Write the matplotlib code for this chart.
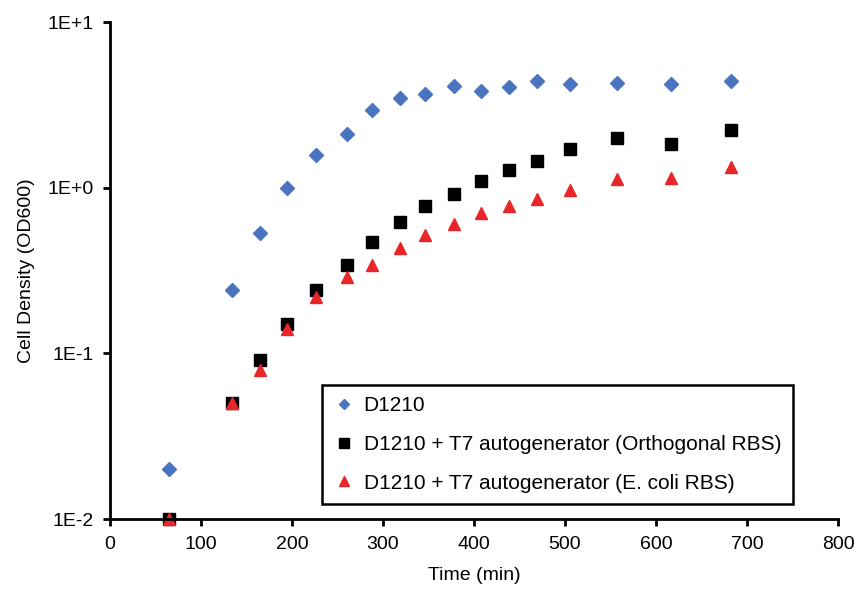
import matplotlib.pyplot as plt
from matplotlib.ticker import FixedLocator, NullLocator

plt.rcParams['font.family'] = ['Liberation Sans', 'DejaVu Sans']

# Time points (min)
tempo = [65, 134, 165, 195, 226, 260, 288, 319, 346, 378, 408, 438, 469, 505, 557, 616, 682]

# Cell density (OD600)
d1210 = [0.02, 0.24, 0.53, 1.0, 1.58, 2.1, 2.95, 3.48, 3.7, 4.1, 3.84, 4.05, 4.4, 4.2, 4.3, 4.2, 4.4]
orto = [0.01, 0.05, 0.091, 0.15, 0.24, 0.34, 0.47, 0.62, 0.78, 0.91, 1.1, 1.27, 1.45, 1.72, 2.0, 1.84, 2.24]
ecoli = [0.01, 0.05, 0.079, 0.14, 0.22, 0.29, 0.34, 0.435, 0.52, 0.6, 0.70, 0.77, 0.85, 0.97, 1.13, 1.15, 1.34]

rotulos = ['D1210',
           'D1210 + T7 autogenerator (Orthogonal RBS)',
           'D1210 + T7 autogenerator (E. coli RBS)']
yticks = [0.01, 0.1, 1, 10]
ylabels = ['1E-2', '1E-1', '1E+0', '1E+1']

fig = plt.figure(figsize=(8.61, 5.95), dpi=100)
ax = fig.add_axes([0.1278, 0.1277, 0.8455, 0.8353])

ax.plot(tempo, d1210, 'D', color='#4a74c0', markersize=7, label=rotulos[0], clip_on=False)
ax.plot(tempo, orto, 's', color='black', markersize=8.5, label=rotulos[1], clip_on=False)
ax.plot(tempo, ecoli, '^', color='#e8262a', markersize=8.5, label=rotulos[2], clip_on=False)

ax.set_yscale('log')
ax.set_ylim(0.01, 10)
ax.set_xlim(0, 800)
ax.yaxis.set_major_locator(FixedLocator(yticks))
ax.yaxis.set_minor_locator(NullLocator())
ax.set_yticklabels(ylabels)
ax.set_xticks(range(0, 801, 100))

for lado in ['top', 'right']:
    ax.spines[lado].set_visible(False)
for lado in ['left', 'bottom']:
    ax.spines[lado].set_linewidth(2)
ax.tick_params(direction='out', length=5, width=2, labelsize=14, pad=7)

ax.set_xlabel('Time (min)', fontsize=14, labelpad=10)
ax.set_ylabel('Cell Density (OD600)', fontsize=14, labelpad=9)

leg = ax.legend(loc='lower left', bbox_to_anchor=(0.291, 0.030), fontsize=15,
                fancybox=False, edgecolor='black', framealpha=1, markerscale=0.8,
                handletextpad=0.45, labelspacing=0.95, borderpad=0.55, handlelength=1.0,
                borderaxespad=0)
leg.get_frame().set_linewidth(1.8)

plt.savefig('out.png', dpi=100)
